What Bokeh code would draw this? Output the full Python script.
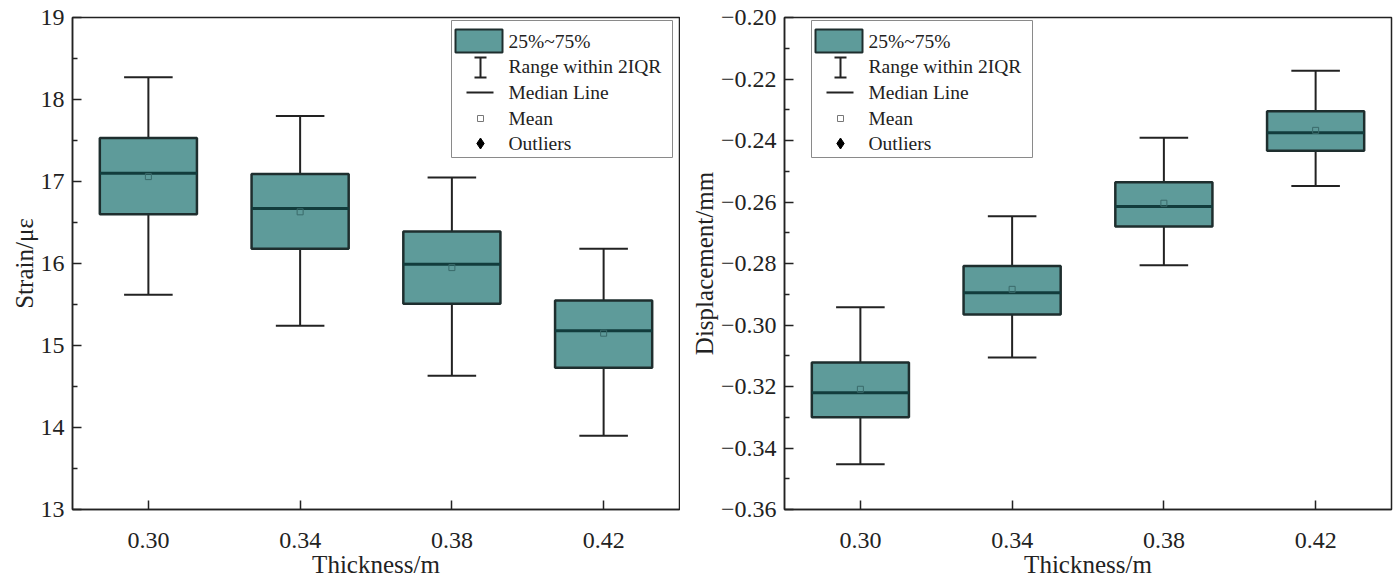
from bokeh.plotting import figure
from bokeh.layouts import row
from bokeh.models import (FixedTicker, CustomJSTickFormatter, BoxAnnotation,
                          Label, Arrow, TeeHead)
from bokeh.embed import file_html
from bokeh.resources import INLINE

# Slab thickness groups
thickness = ["0.30", "0.34", "0.38", "0.42"]

# Strain statistics (micro-strain)
strain_hi = [18.27, 17.80, 17.05, 16.18]
strain_q3 = [17.53, 17.09, 16.39, 15.55]
strain_med = [17.10, 16.67, 15.99, 15.18]
strain_mean = [17.06, 16.63, 15.95, 15.15]
strain_q1 = [16.60, 16.18, 15.51, 14.73]
strain_lo = [15.62, 15.24, 14.63, 13.90]

# Displacement statistics (mm)
disp_hi = [-0.2942, -0.2646, -0.2391, -0.2173]
disp_q3 = [-0.3122, -0.2808, -0.2536, -0.2305]
disp_med = [-0.3220, -0.2895, -0.2615, -0.2375]
disp_mean = [-0.3209, -0.2884, -0.2604, -0.2367]
disp_q1 = [-0.3300, -0.2966, -0.2680, -0.2433]
disp_lo = [-0.3453, -0.3106, -0.2806, -0.2548]

legend_labels = ["25%~75%", "Range within 2IQR", "Median Line", "Mean", "Outliers"]

FONT = "Liberation Serif"
TEAL = "#5E9B9A"
EDGE = "#1E2E2E"
MED = "#123C3C"
INK = "#222222"
FW, FH = 607, 492
BOX_W = 0.64
CAP_W = 0.32


def make_panel(ylabel, yr, major, minor, fmt, stats, left_border, right_border, legend_x):
    hi, q3, med, mean, q1, lo = stats
    x0, x1 = 0.5, len(thickness) + 0.5
    p = figure(frame_width=FW, frame_height=FH, x_range=(x0, x1), y_range=yr,
               output_backend="svg", toolbar_location=None,
               min_border_left=left_border, min_border_right=right_border,
               min_border_top=17, min_border_bottom=71)
    p.background_fill_color = "white"
    p.border_fill_color = "white"
    p.xgrid.visible = False
    p.ygrid.visible = False
    p.outline_line_color = INK
    p.outline_line_width = 1.5
    p.outline_line_alpha = 1

    pos = list(range(1, len(thickness) + 1))

    # axes
    p.xaxis.ticker = FixedTicker(ticks=pos)
    p.xaxis.major_label_overrides = {i: t for i, t in zip(pos, thickness)}
    p.yaxis.ticker = FixedTicker(ticks=major, minor_ticks=minor)
    p.yaxis.formatter = CustomJSTickFormatter(code=fmt)
    for ax in (p.xaxis[0], p.yaxis[0]):
        ax.axis_line_color = INK
        ax.axis_line_width = 1.5
        ax.major_tick_line_color = INK
        ax.major_tick_line_width = 1.5
        ax.major_tick_in = 9
        ax.major_tick_out = 0
        ax.minor_tick_line_color = INK
        ax.minor_tick_line_width = 1.5
        ax.minor_tick_in = 5
        ax.minor_tick_out = 0
        ax.major_label_text_font = FONT
        ax.major_label_text_font_size = "24px"
        ax.major_label_text_color = INK
        ax.axis_label_text_font = FONT
        ax.axis_label_text_font_size = "25px"
        ax.axis_label_text_font_style = "normal"
        ax.axis_label_text_color = INK
    p.xaxis.minor_tick_line_color = None
    p.xaxis.axis_label = "Thickness/m"
    p.xaxis.major_label_standoff = 23
    p.xaxis.axis_label_standoff = 0
    p.yaxis.axis_label = ylabel
    p.yaxis.major_label_standoff = 8
    p.yaxis.axis_label_standoff = 0

    # whiskers and caps
    p.segment(x0=pos, y0=q3, x1=pos, y1=hi, line_color=INK, line_width=2)
    p.segment(x0=pos, y0=q1, x1=pos, y1=lo, line_color=INK, line_width=2)
    p.segment(x0=[x - CAP_W / 2 for x in pos], y0=hi, x1=[x + CAP_W / 2 for x in pos], y1=hi,
              line_color=INK, line_width=2)
    p.segment(x0=[x - CAP_W / 2 for x in pos], y0=lo, x1=[x + CAP_W / 2 for x in pos], y1=lo,
              line_color=INK, line_width=2)
    # interquartile boxes
    p.vbar(x=pos, width=BOX_W, bottom=q1, top=q3, fill_color=TEAL,
           line_color=EDGE, line_width=2.5)
    # median and mean
    p.segment(x0=[x - BOX_W / 2 for x in pos], y0=med, x1=[x + BOX_W / 2 for x in pos], y1=med,
              line_color=MED, line_width=3)
    p.scatter(x=pos, y=mean, marker="square", size=6, fill_color=None,
              line_color="#3A6A6A", line_width=1)

    # legend block, positioned in frame pixels
    y0, y1 = yr

    def sx(px):
        return x0 + px * (x1 - x0) / FW

    def sy(py):
        return y1 - py * (y1 - y0) / FH

    lx = legend_x
    p.add_layout(BoxAnnotation(left=sx(lx), right=sx(lx + 221), top=sy(3), bottom=sy(140),
                               fill_color="white", fill_alpha=1, line_color="#8A8A8A",
                               line_alpha=1, line_width=1))
    p.add_layout(BoxAnnotation(left=sx(lx + 4), right=sx(lx + 51), top=sy(12), bottom=sy(35),
                               fill_color=TEAL, fill_alpha=1, line_color=EDGE,
                               line_alpha=1, line_width=2))
    cx = lx + 29
    p.add_layout(Arrow(start=TeeHead(size=12, line_width=2, line_color=INK),
                       end=TeeHead(size=12, line_width=2, line_color=INK),
                       x_start=sx(cx), y_start=sy(40), x_end=sx(cx), y_end=sy(60),
                       line_color=INK, line_width=2))
    p.add_layout(Arrow(start=None, end=None, x_start=sx(cx - 14), y_start=sy(75),
                       x_end=sx(cx + 13), y_end=sy(75), line_color=INK, line_width=2))
    p.scatter(x=[sx(cx)], y=[sy(101)], marker="square", size=6, fill_color=None,
              line_color="#777777", line_width=1, level="overlay")
    p.scatter(x=[sx(cx)], y=[sy(126)], marker="diamond", size=11, fill_color="black",
              line_color="black", level="overlay")
    for lab, py in zip(legend_labels, [24, 49, 75, 101, 126]):
        p.add_layout(Label(x=sx(lx + 57), y=sy(py), text=lab, text_baseline="middle",
                           text_font=FONT, text_font_size="19.5px", text_color=INK))
    return p


p1 = make_panel("Strain/με", (13, 19), [13, 14, 15, 16, 17, 18, 19],
                [13.5, 14.5, 15.5, 16.5, 17.5, 18.5],
                "return tick.toFixed(0);",
                (strain_hi, strain_q3, strain_med, strain_mean, strain_q1, strain_lo),
                72, 1, 379)

p2 = make_panel("Displacement/mm", (-0.36, -0.20),
                [-0.36, -0.34, -0.32, -0.30, -0.28, -0.26, -0.24, -0.22, -0.20],
                [-0.35, -0.33, -0.31, -0.29, -0.27, -0.25, -0.23, -0.21],
                "return (tick < 0 ? '\\u2212' : '') + Math.abs(tick).toFixed(2);",
                (disp_hi, disp_q3, disp_med, disp_mean, disp_q1, disp_lo),
                104, 8, 27)

layout = row(p1, p2, spacing=0)
open("out.html", "w").write(file_html(layout, INLINE))
